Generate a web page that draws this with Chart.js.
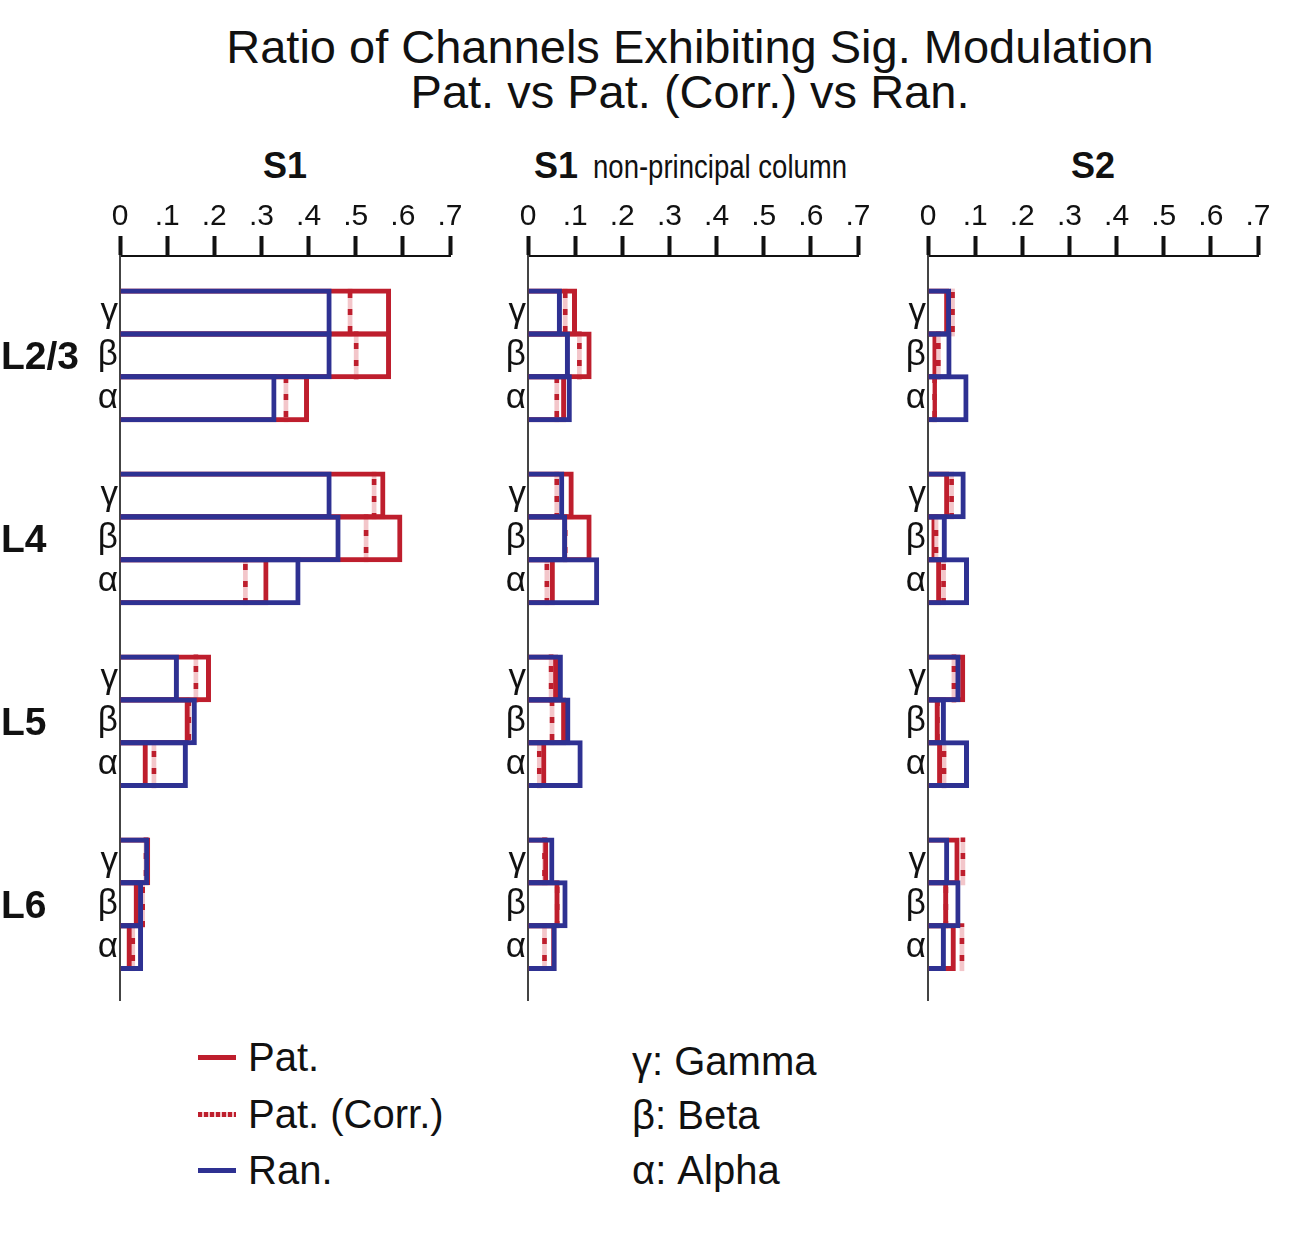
<!DOCTYPE html>
<html>
<head>
<meta charset="utf-8">
<script src="https://cdn.jsdelivr.net/npm/chart.js@4.4.1/dist/chart.umd.min.js"></script>
<style>
body { margin: 0; width: 1293px; height: 1257px; background: #fff; position: relative; font-family: 'Liberation Sans', Arial, sans-serif; color: #111; }
.abs { position: absolute; white-space: nowrap; }
#titulo { left: 190px; width: 1000px; top: 24px; text-align: center; font-size: 47px; line-height: 45px; }
.panel { top: 147px; font-size: 36px; line-height: 38px; font-weight: bold; text-align: center; }
.narrow { display: inline-block; font-weight: normal; font-size: 34px; transform: scaleX(0.81); transform-origin: left center; margin-left: 15px; margin-right: -50px; }
canvas { position: absolute; top: 190px; }
.ley { font-size: 40px; line-height: 40px; }
.muestra { position: absolute; width: 38px; height: 5px; }
</style>
</head>
<body>
<div id="titulo" class="abs">Ratio of Channels Exhibiting Sig. Modulation<br>Pat. vs Pat. (Corr.) vs Ran.</div>

<div class="abs panel" style="left:185px;width:200px;">S1</div>
<div class="abs panel" style="left:534px;width:340px;text-align:left;">S1<span class="narrow">non-principal column</span></div>
<div class="abs panel" style="left:993px;width:200px;">S2</div>

<canvas id="g1" width="480" height="820" style="left:0px"></canvas>
<canvas id="g2" width="480" height="820" style="left:408px"></canvas>
<canvas id="g3" width="480" height="820" style="left:808px"></canvas>

<div class="muestra" style="left:198px;top:1055px;background:#be1e2d;"></div>
<div class="muestra" style="left:198px;top:1112px;background:repeating-linear-gradient(to right,#be1e2d 0 4px,#f3c6ca 4px 6px);"></div>
<div class="muestra" style="left:198px;top:1168px;background:#2e3192;"></div>
<div class="abs ley" style="left:248px;top:1037px;">Pat.</div>
<div class="abs ley" style="left:248px;top:1094px;">Pat. (Corr.)</div>
<div class="abs ley" style="left:248px;top:1150px;">Ran.</div>
<div class="abs ley" style="left:632px;top:1041px;">γ: Gamma</div>
<div class="abs ley" style="left:632px;top:1095px;">β: Beta</div>
<div class="abs ley" style="left:632px;top:1150px;">α: Alpha</div>

<script>
// capas y bandas (orden de arriba a abajo)
const capas = ['L2/3', 'L4', 'L5', 'L6'];
const bandas = ['γ', 'β', 'α'];
const ticksX = [0, 0.1, 0.2, 0.3, 0.4, 0.5, 0.6, 0.7];

// S1
const s1Pat  = [0.575, 0.575, 0.401, 0.563, 0.599, 0.315, 0.193, 0.148, 0.059, 0.064, 0.040, 0.025];
const s1Corr = [0.488, 0.501, 0.352, 0.539, 0.522, 0.266, 0.161, 0.146, 0.072, 0.055, 0.048, 0.027];
const s1Ran  = [0.449, 0.449, 0.332, 0.449, 0.468, 0.383, 0.125, 0.163, 0.144, 0.062, 0.049, 0.049];

// S1 non-principal column
const npPat  = [0.104, 0.135, 0.081, 0.097, 0.135, 0.057, 0.064, 0.081, 0.039, 0.043, 0.067, 0.060];
const npCorr = [0.079, 0.109, 0.061, 0.061, 0.079, 0.040, 0.049, 0.051, 0.024, 0.035, 0.062, 0.035];
const npRan  = [0.072, 0.089, 0.093, 0.077, 0.083, 0.151, 0.074, 0.090, 0.116, 0.056, 0.084, 0.061];

// S2
const s2Pat  = [0.045, 0.018, 0.019, 0.045, 0.014, 0.028, 0.079, 0.025, 0.030, 0.067, 0.043, 0.059];
const s2Corr = [0.052, 0.022, 0.014, 0.050, 0.017, 0.033, 0.055, 0.020, 0.034, 0.074, 0.038, 0.072];
const s2Ran  = [0.049, 0.050, 0.086, 0.080, 0.040, 0.087, 0.069, 0.038, 0.087, 0.045, 0.069, 0.038];

const ROJO = '#be1e2d';
const AZUL = '#2e3192';
const ROSA = '#f3c6ca';
const SALTO = 4.266;      // distancia entre capas, en alturas de barra
const MEDIO_PUNT = 0.005; // medio ancho de la linea punteada

Chart.defaults.font.family = "'Liberation Sans', Arial, sans-serif";
Chart.defaults.color = '#111';

// posicion vertical de cada barra
let posiciones = [];
capas.forEach((c, i) => bandas.forEach((b, j) => posiciones.push(i * SALTO + j)));

// patron rojo / rosa para Pat. (Corr.)
let lienzo_patron = document.createElement('canvas');
lienzo_patron.width = 6;
lienzo_patron.height = 17;
let cp = lienzo_patron.getContext('2d');
cp.fillStyle = ROSA;
cp.fillRect(0, 0, 6, 17);
cp.fillStyle = ROJO;
cp.fillRect(0, 0, 6, 6);

const etiquetasCapas = {
    id: 'capas',
    afterDraw(chart) {
        let ctx = chart.ctx;
        let ejeY = chart.scales.y;
        ctx.save();
        ctx.font = "bold 39px 'Liberation Sans', Arial, sans-serif";
        ctx.fillStyle = '#111';
        ctx.textAlign = 'left';
        ctx.textBaseline = 'middle';
        capas.forEach((c, i) => ctx.fillText(c, 1, ejeY.getPixelForValue(i * SALTO + 1) + 3));
        ctx.restore();
    }
};

function crearPanel(id, pat, corr, ran, conCapas) {
    let canvas = document.getElementById(id);
    let patron = canvas.getContext('2d').createPattern(lienzo_patron, 'repeat');
    new Chart(canvas, {
        type: 'bar',
        data: {
            datasets: [{
                label: 'Ran.',
                data: ran.map((v, i) => ({x: v, y: posiciones[i]})),
                backgroundColor: 'rgba(0,0,0,0)',
                borderColor: AZUL,
                borderWidth: 5,
                borderSkipped: 'start',
                order: 0
            }, {
                label: 'Pat.',
                data: pat.map((v, i) => ({x: v, y: posiciones[i]})),
                backgroundColor: 'rgba(0,0,0,0)',
                borderColor: ROJO,
                borderWidth: 5,
                borderSkipped: 'start',
                order: 1
            }, {
                label: 'Pat. (Corr.)',
                data: corr.map((v, i) => ({x: [v - MEDIO_PUNT, v + MEDIO_PUNT], y: posiciones[i]})),
                backgroundColor: patron,
                borderWidth: 0,
                order: 2
            }]
        },
        options: {
            indexAxis: 'y',
            responsive: false,
            animation: false,
            devicePixelRatio: 1,
            grouped: false,
            barPercentage: 1.115,
            categoryPercentage: 1,
            layout: { padding: { left: 0, right: 30, top: 0, bottom: 10 } },
            scales: {
                x: {
                    type: 'linear',
                    position: 'top',
                    min: 0,
                    max: 0.7,
                    afterBuildTicks: (eje) => { eje.ticks = ticksX.map(v => ({value: v})); },
                    afterFit: (eje) => { eje.height = 66; },
                    ticks: {
                        font: { size: 30 },
                        color: '#111',
                        padding: 1,
                        maxRotation: 0,
                        callback: (v) => v === 0 ? '0' : '.' + Math.round(v * 10)
                    },
                    grid: {
                        drawOnChartArea: false,
                        tickLength: 20,
                        tickWidth: 4,
                        tickColor: '#111'
                    },
                    border: { display: true, color: '#111', width: 2 }
                },
                y: {
                    type: 'linear',
                    offset: false,
                    reverse: true,
                    min: -1.317,
                    max: 16.03,
                    afterBuildTicks: (eje) => { eje.ticks = posiciones.map(v => ({value: v})); },
                    afterFit: (eje) => { eje.width = 120; eje.paddingTop = 0; eje.paddingBottom = 0; },
                    ticks: {
                        autoSkip: false,
                        font: { size: 35 },
                        color: '#111',
                        padding: 2,
                        callback: (v) => bandas[posiciones.indexOf(v) % 3]
                    },
                    grid: { offset: false, drawOnChartArea: false, drawTicks: false },
                    border: { display: true, color: '#444', width: 2 }
                }
            },
            plugins: {
                legend: { display: false },
                tooltip: { enabled: false },
                title: { display: false }
            }
        },
        plugins: conCapas ? [etiquetasCapas] : []
    });
}

crearPanel('g1', s1Pat, s1Corr, s1Ran, true);
crearPanel('g2', npPat, npCorr, npRan, false);
crearPanel('g3', s2Pat, s2Corr, s2Ran, false);
</script>
</body>
</html>
